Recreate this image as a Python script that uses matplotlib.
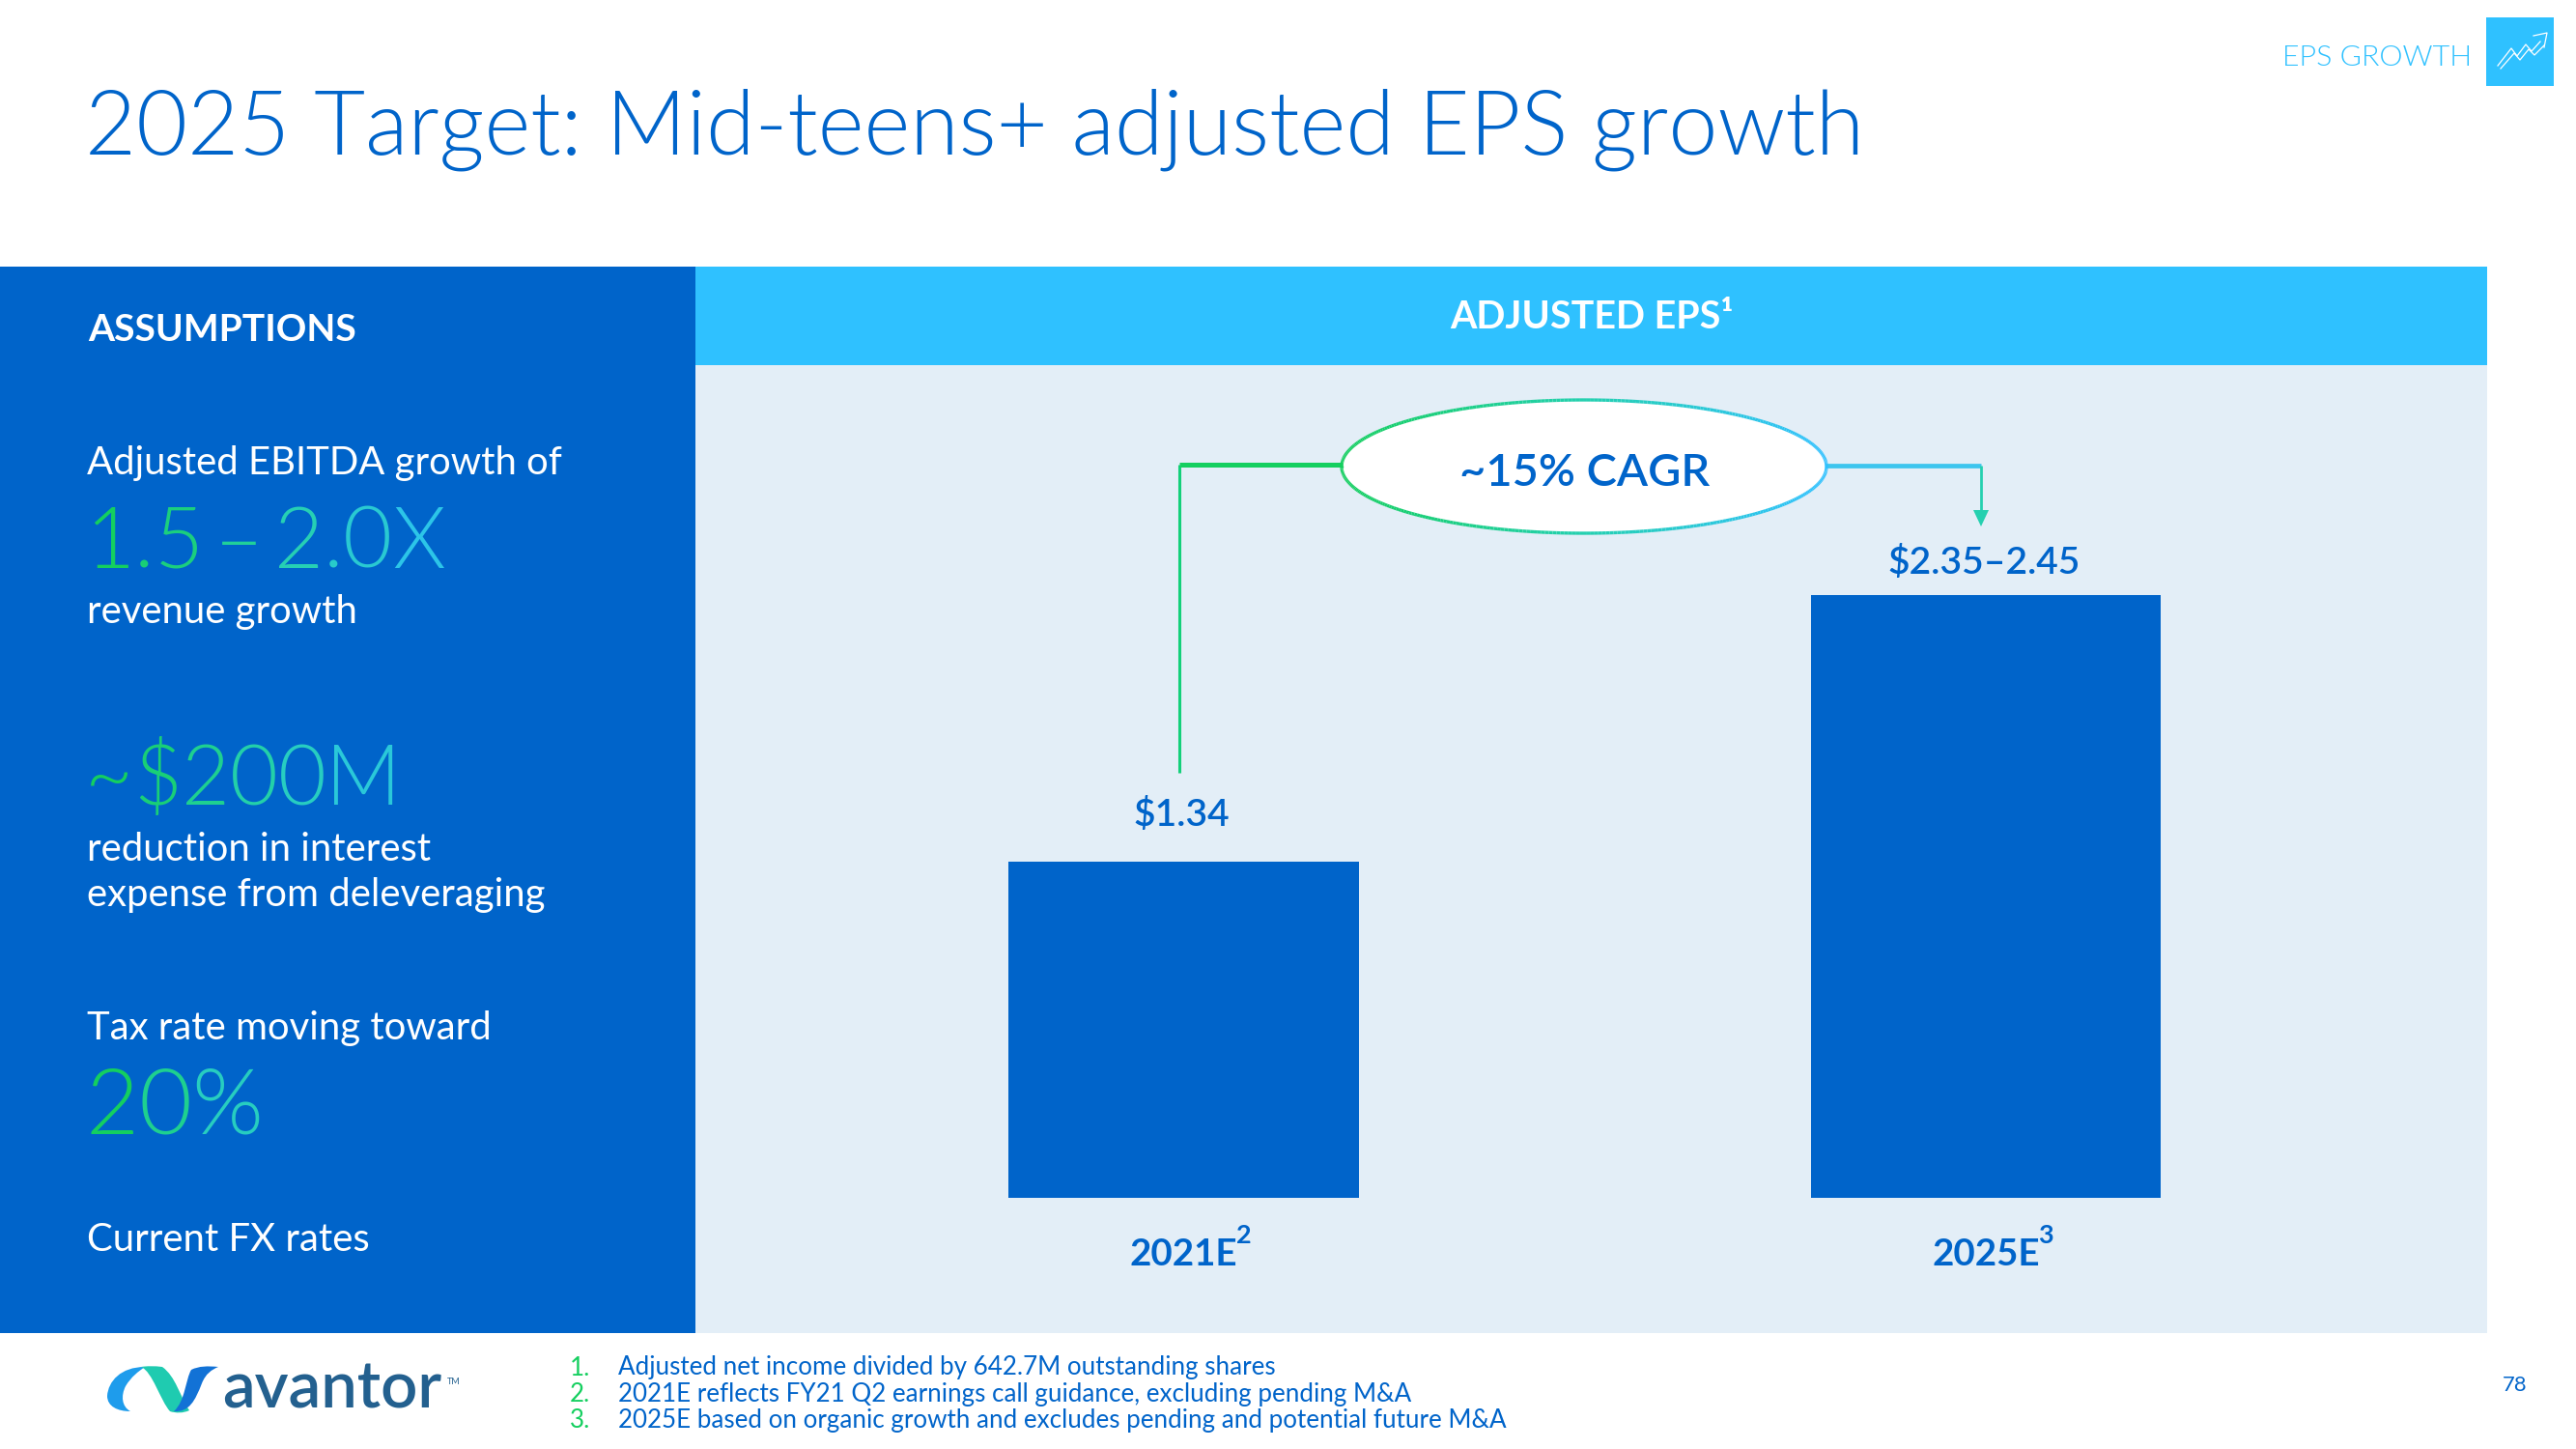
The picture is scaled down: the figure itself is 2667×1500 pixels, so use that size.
import numpy as np
import matplotlib
matplotlib.use("Agg")
import matplotlib.pyplot as plt
from matplotlib import font_manager as fm
from matplotlib.collections import LineCollection
from matplotlib.colors import LinearSegmentedColormap
from matplotlib.patches import Rectangle, Ellipse, Polygon, PathPatch
from matplotlib.path import Path

plt.rcParams['font.family'] = ['Lato', 'DejaVu Sans']

# chart data
categories = ["2021E", "2025E"]
footnote_marks = ["2", "3"]
eps_values = [1.34, 2.40]
eps_labels = ["$1.34", "$2.35\u20132.45"]

footnotes = [
    "Adjusted net income divided by 642.7M outstanding shares",
    "2021E reflects FY21 Q2 earnings call guidance, excluding pending M&A",
    "2025E based on organic growth and excludes pending and potential future M&A",
]

BLUE = "#0064CA"
SKY = "#2FC1FF"
PALE = "#E3EEF7"
GREEN = "#14CF5F"
grad = LinearSegmentedColormap.from_list("g", [GREEN, "#25D0B0", SKY])

# real Lato Light file, asking by weight lands on the hairline cut
light_files = [f.fname for f in fm.fontManager.ttflist
               if f.name.startswith("Lato") and f.fname.endswith("Lato-Light.ttf")]
if light_files:
    LIGHT = {"fontproperties": fm.FontProperties(fname=light_files[0])}
else:
    LIGHT = {"family": "Open Sans", "fontweight": "light"}


fig = plt.figure(figsize=(26.67, 15), dpi=100, facecolor="white")

# page layer in pixels
page = fig.add_axes([0, 0, 1, 1])
page.set_xlim(0, 2667)
page.set_ylim(1500, 0)
page.axis("off")


def px(size):
    return size * 0.72


def light_text(x, y, s, size, color):
    t = page.text(x, y, s, color=color, va="baseline", **LIGHT)
    t.set_fontsize(px(size))
    return t


def grad_text(x, y, s, size):
    # one colour per character, left to right
    r = fig.canvas.get_renderer()
    full = light_text(x, y, s, size, "none")
    total = full.get_window_extent(r).width
    full.remove()
    bar = light_text(x, y, "|", size, "none")
    bar_w = bar.get_window_extent(r).width
    bar.remove()
    for i, ch in enumerate(s):
        probe = light_text(x, y, s[:i] + "|", size, "none")
        off = probe.get_window_extent(r).width - bar_w
        probe.remove()
        light_text(x + off, y, ch, size, grad(off / total))


# background blocks
page.add_patch(Rectangle((0, 276), 720, 1104, color=BLUE, lw=0))
page.add_patch(Rectangle((720, 276), 1855, 102, color=SKY, lw=0))
page.add_patch(Rectangle((2574, 18), 70, 71, color=SKY, lw=0))

# title and section tag
light_text(88, 160, "2025 Target: Mid-teens+ adjusted EPS growth", 91.5, BLUE)
light_text(2363, 68, "EPS GROWTH", 30.5, SKY)
page.plot([2586, 2600, 2606, 2615, 2621, 2630], [68, 50, 58, 46, 53, 43], color="white", lw=0.9)
page.plot([2589, 2603, 2609, 2618, 2624, 2634], [71, 55, 62, 51, 57, 47], color="white", lw=0.9)
page.plot([2623, 2637, 2634], [37, 34, 49], color="white", lw=0.9)

# left column
page.text(91, 353, "ASSUMPTIONS", fontsize=px(39), color="white", fontweight="bold", va="baseline")
page.text(90, 491, "Adjusted EBITDA growth of", fontsize=px(40), color="white", va="baseline")
grad_text(88, 588, "1.5\u2009\u2013\u20092.0X", 88)
page.text(90, 645, "revenue growth", fontsize=px(40), color="white", va="baseline")
grad_text(88, 833, "~$200M", 86)
page.text(90, 891, "reduction in interest", fontsize=px(40), color="white", va="baseline")
page.text(90, 938, "expense from deleveraging", fontsize=px(40), color="white", va="baseline")
page.text(90, 1076, "Tax rate moving toward", fontsize=px(40), color="white", va="baseline")
grad_text(88, 1174, "20%", 95)
page.text(90, 1295, "Current FX rates", fontsize=px(40), color="white", va="baseline")

# panel with the bars: one data unit is 260 px, baseline at y=1240
ax = fig.add_axes([720 / 2667, 120 / 1500, 1855 / 2667, 1002 / 1500], zorder=2)
ax.set_facecolor(PALE)
ax.set_xlim(-0.609, 1.625)
ax.set_ylim(-0.538, 3.315)
for side in ax.spines.values():
    side.set_visible(False)
ax.set_xticks([])
ax.set_yticks([])
xpos = np.arange(len(categories))
ax.bar(xpos, eps_values, width=0.4365, color=BLUE)
label_gaps = [30, 15]
for x, v, lab, gap in zip(xpos, eps_values, eps_labels, label_gaps):
    ax.annotate(lab, (x, v), xytext=(-2, gap), textcoords="offset pixels", ha="center", va="bottom",
                fontsize=px(39), color=BLUE, fontweight="semibold")
for x, cat, mark in zip(xpos, categories, footnote_marks):
    ax.annotate(cat, (x, 0), xytext=(0, -70), textcoords="offset pixels", ha="center", va="baseline",
                fontsize=px(38.5), color=BLUE, fontweight="bold")
    ax.annotate(mark, (x, 0), xytext=(62, -47), textcoords="offset pixels", ha="center", va="baseline",
                fontsize=px(27), color=BLUE, fontweight="bold")

# header over the panel
page.text(1648, 329, "ADJUSTED EPS\u00b9", fontsize=px(39.5), color="white", fontweight="bold",
          ha="center", va="center")

# overlay for connector and ellipse
over = fig.add_axes([0, 0, 1, 1], zorder=3)
over.set_xlim(0, 2667)
over.set_ylim(1500, 0)
over.axis("off")
over.patch.set_alpha(0)

over.plot([1221, 1221], [800, 481], color="#14D07A", lw=2.2, solid_capstyle="butt")
over.plot([1221, 1390], [481, 481], color=GREEN, lw=3.6, solid_capstyle="butt")
over.plot([1890, 2051], [482, 482], color="#3DC5EE", lw=3.4, solid_capstyle="butt")
over.plot([2051, 2051], [482, 530], color="#25D0B0", lw=2.0, solid_capstyle="butt")
over.add_patch(Polygon([[2043, 528], [2059, 528], [2051, 545]], color="#25D0B0", lw=0))

cx, cy, rx, ry = 1640, 483, 251, 69
over.add_patch(Ellipse((cx, cy), 2 * rx, 2 * ry, facecolor="white", edgecolor="none"))
theta = np.linspace(0, 2 * np.pi, 400)
ex, ey = cx + rx * np.cos(theta), cy + ry * np.sin(theta)
pts = np.column_stack([ex, ey]).reshape(-1, 1, 2)
segs = np.concatenate([pts[:-1], pts[1:]], axis=1)
lc = LineCollection(segs, cmap=grad, lw=2.4)
lc.set_array((ex[:-1] - ex.min()) / (2 * rx))
over.add_collection(lc)
over.text(1641, 490, "~15% CAGR", fontsize=px(47), color=BLUE, fontweight="semibold", ha="center", va="center")


# logo ribbon
def blob(verts, color):
    codes = [Path.MOVETO] + [Path.CURVE4] * (len(verts) - 1)
    page.add_patch(PathPatch(Path(verts, codes), facecolor=color, lw=0))


blob([(150, 1415), (125, 1415), (112, 1430), (111, 1445),
      (111, 1456), (122, 1461), (135, 1461),
      (126, 1456), (125, 1445), (130, 1435),
      (136, 1425), (143, 1420), (150, 1415)], "#1E9CEC")
blob([(146, 1415), (158, 1420), (166, 1450), (176, 1461),
      (182, 1463), (190, 1463), (196, 1460),
      (186, 1445), (182, 1425), (168, 1415),
      (160, 1414), (152, 1414), (146, 1415)], "#1FCBB0")
blob([(180, 1461), (196, 1462), (202, 1450), (209, 1432),
      (213, 1422), (219, 1418), (226, 1415),
      (215, 1414), (206, 1414), (198, 1418),
      (192, 1428), (192, 1450), (180, 1461)], "#1272D6")
page.text(230, 1458, "avantor", fontsize=px(67), color="#23608F", fontweight="semibold", va="baseline")
page.text(463, 1433, "TM", fontsize=px(9), color="#23608F", va="baseline")

# footnotes
for i, note in enumerate(footnotes):
    y = 1416 + i * 27.3
    page.text(590, y, f"{i + 1}.", fontsize=px(26), color=GREEN, va="center")
    page.text(640, y, note, fontsize=px(26), color=BLUE, va="center")
page.text(2604, 1434, "78", fontsize=px(22), color=BLUE, ha="center", va="center")

fig.savefig("out.png", dpi=100)
